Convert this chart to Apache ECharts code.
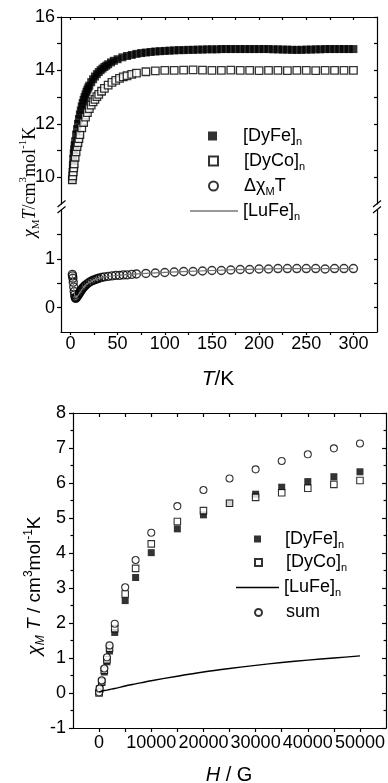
<!DOCTYPE html>
<html><head><meta charset="utf-8">
<script src="https://cdn.jsdelivr.net/npm/echarts@6/dist/echarts.min.js"></script>
<style>html,body{margin:0;padding:0;background:#fff}#c{width:388px;height:783px}</style>
</head><body><div id="c"></div>
<script>
// ---------- Top panel: chi_M T vs T ----------
const T_DyFe = [2,2.3,2.6,3,3.5,4,4.5,5,6,7,8,9,10,11,12,13,14,15,16,17,18,19,20,22,24,26,28,30,32,34,36,38,40,43,46,50,55,60,65,70,75,80,85,90,95,100,
  105,110,115,120,125,130,135,140,145,150,155,160,165,170,175,180,185,190,195,200,205,210,215,220,225,230,235,240,245,250,255,260,265,270,275,280,285,290,295,300];
const chi_DyFe = [9.9,10.2,10.45,10.7,10.9,11.05,11.2,11.35,11.6,11.8,12.0,12.18,12.35,12.5,12.65,12.78,12.9,13.0,13.1,13.2,13.28,13.36,13.43,13.56,13.67,13.77,13.86,13.94,14.01,14.07,14.13,14.18,14.23,14.3,14.36,14.42,14.49,14.54,14.58,14.62,14.65,14.67,14.69,14.71,14.72,14.73,
  14.74,14.75,14.76,14.76,14.77,14.77,14.78,14.78,14.79,14.79,14.79,14.8,14.8,14.8,14.8,14.8,14.8,14.8,14.8,14.8,14.8,14.8,14.79,14.79,14.78,14.78,14.77,14.77,14.77,14.78,14.78,14.79,14.79,14.8,14.8,14.8,14.8,14.8,14.8,14.8];
const T_DyCo = [2,2.5,3,3.5,4,5,6,7,8,9,10,12,14,16,18,20,22,24,26,28,30,33,36,40,44,48,52,56,60,65,70,80,90,100,110,120,130,140,150,160,170,180,190,200,210,220,230,240,250,260,270,280,290,300];
const chi_DyCo = [9.9,10.05,10.2,10.35,10.5,10.75,10.95,11.15,11.3,11.45,11.6,11.85,12.05,12.25,12.42,12.57,12.7,12.82,12.92,13.02,13.1,13.22,13.33,13.45,13.55,13.63,13.7,13.76,13.8,13.85,13.9,13.95,13.98,14.0,14.0,14.01,14.02,14.01,14.0,14.0,14.01,14.0,14.0,13.99,14.0,14.0,13.99,14.0,14.0,13.99,14.0,14.0,14.0,14.0];
const T_Delta = [2,2.3,2.6,3,3.5,4,4.5,5,5.5,6,7,8,9,10,11,12,13,14,15,16,18,20,22,24,26,28,30,33,36,40,44,48,52,56,60,65,70,80,90,100,110,120,130,140,150,160,170,180,190,200,210,220,230,240,250,260,270,280,290,300];
const chi_Delta = [0.68,0.65,0.6,0.52,0.42,0.33,0.26,0.21,0.19,0.2,0.22,0.25,0.28,0.31,0.34,0.37,0.4,0.42,0.44,0.46,0.49,0.52,0.54,0.56,0.57,0.59,0.6,0.62,0.63,0.64,0.65,0.66,0.66,0.67,0.67,0.68,0.69,0.7,0.71,0.72,0.73,0.74,0.74,0.75,0.76,0.76,0.77,0.78,0.78,0.79,0.79,0.8,0.8,0.8,0.8,0.8,0.79,0.8,0.8,0.8];
const T_LuFe = [2,3,4,5,6,8,10,15,20,30,40,50,70,100,150,200,250,300];
const chi_LuFe = [0.66,0.5,0.32,0.22,0.2,0.25,0.31,0.44,0.52,0.6,0.64,0.66,0.69,0.72,0.76,0.79,0.8,0.8];
const T_TICKS = [0,25,50,75,100,125,150,175,200,225,250,275,300];
const T_LABELS = [0,50,100,150,200,250,300];
const Y_UP_TICKS = [10,11,12,13,14,15,16];
const Y_UP_LABELS = [10,12,14,16];
const Y_LO_TICKS = [0,0.5,1,1.5];
const Y_LO_LABELS = [0,1];

// ---------- Bottom panel: chi_M T vs H ----------
const H = [0,100,500,1000,1500,2000,3000,5000,7000,10000,15000,20000,25000,30000,35000,40000,45000,50000];
const H_DyFe = [0.02,0.1,0.3,0.6,0.89,1.2,1.73,2.64,3.3,4.01,4.69,5.09,5.42,5.68,5.88,6.04,6.18,6.32];
const H_DyCo = [0.0,0.11,0.32,0.65,0.95,1.28,1.84,2.83,3.56,4.26,4.9,5.21,5.42,5.59,5.72,5.85,5.96,6.07];
const H_sum = [0.02,0.13,0.36,0.7,1.02,1.36,1.98,3.02,3.8,4.58,5.34,5.8,6.13,6.39,6.63,6.82,6.99,7.13];
const H_Lu = [0,1000,2000,3000,5000,7000,10000,15000,20000,25000,30000,35000,40000,45000,50000];
const H_LuFe = [0.03,0.07,0.1,0.13,0.2,0.26,0.35,0.48,0.6,0.7,0.79,0.87,0.94,1.0,1.06];
const H_TICKS = [0,5000,10000,15000,20000,25000,30000,35000,40000,45000,50000];
const H_LABELS = [0,10000,20000,30000,40000,50000];

const zip = (a, b) => a.map((v, i) => [v, b[i]]);
const SANS = 'Liberation Sans';
const SERIF = 'Liberation Serif';
const lab = {fontFamily: SANS, fontSize: 18, color: '#000'};
const lineS = {show: true, onZero: false, lineStyle: {color: '#000', width: 1.2}};

function xAx(o) {
  return Object.assign({type: 'value', splitLine: {show: false}, axisLine: lineS}, o);
}

const chart = echarts.init(document.getElementById('c'), null, {renderer: 'canvas'});

const legRich = {
  a: {fontFamily: SANS, fontSize: 18, lineHeight: 22, color: '#000'},
  s: {fontFamily: SANS, fontSize: 11, lineHeight: 11, verticalAlign: 'bottom', color: '#000'},
  g: {width: 21, fontSize: 18, lineHeight: 22},
  h: {width: 19, fontSize: 18, lineHeight: 22}
};
const legText = {
  tDyFe: '{g| }{a|[DyFe]}{s|n}', tDyCo: '{g| }{a|[DyCo]}{s|n}', tDelta: '{g| }{a|Δχ}{s|M}{a|T}', tLuFe: '{a|[LuFe]}{s|n}',
  bDyFe: '{h| }{a|[DyFe]}{s|n}', bDyCo: '{h| }{a|[DyCo]}{s|n}', bLuFe: '{a|[LuFe]}{s|n}', bSum: '{h| }{a|sum}'
};
function leg(name, left, cy, w, h, icon) {
  const l = {data: [name], left: left, top: cy - 11, itemWidth: w, itemHeight: h, padding: 0, itemGap: 0,
    selectedMode: false, formatter: n => legText[n], textStyle: {rich: legRich, fontFamily: SANS, fontSize: 18}};
  if (icon) l.icon = icon;
  return l;
}

const option = {
  animation: false,
  backgroundColor: '#fff',
  grid: [
    {left: 61, right: 11, top: 17, height: 187},
    {left: 61, right: 11, top: 210, height: 122},
    {left: 73, right: 1, top: 413, height: 315}
  ],
  xAxis: [
    xAx({gridIndex: 0, position: 'top', min: -10, max: 325,
      axisTick: {show: true, inside: true, length: 3, customValues: T_TICKS, lineStyle: {width: 1.2}},
      axisLabel: {show: false}}),
    xAx({gridIndex: 1, position: 'bottom', min: -10, max: 325,
      axisTick: {show: true, inside: false, length: 3, customValues: T_TICKS, lineStyle: {width: 1.2}},
      axisLabel: Object.assign({show: true, margin: 3, customValues: T_LABELS}, lab)}),
    xAx({gridIndex: 2, position: 'bottom', min: -5000, max: 55000,
      axisTick: {show: true, inside: false, length: 4, customValues: H_TICKS, lineStyle: {width: 1.2}},
      axisLabel: Object.assign({show: true, margin: 6, customValues: H_LABELS, formatter: v => String(v)}, lab)}),
    xAx({gridIndex: 2, position: 'top', min: -5000, max: 55000,
      axisTick: {show: true, inside: true, length: 4, customValues: H_TICKS, lineStyle: {width: 1.2}},
      axisLabel: {show: false}})
  ],
  yAxis: [
    xAx({gridIndex: 0, position: 'left', min: 9, max: 16,
      axisTick: {show: true, inside: false, length: 4, customValues: Y_UP_TICKS, lineStyle: {width: 1.2}},
      axisLabel: Object.assign({show: true, margin: 6, customValues: Y_UP_LABELS}, lab)}),
    xAx({gridIndex: 0, position: 'right', min: 9, max: 16,
      axisTick: {show: true, inside: true, length: 3, customValues: Y_UP_TICKS, lineStyle: {width: 1.2}},
      axisLabel: {show: false}}),
    xAx({gridIndex: 1, position: 'left', min: -0.5, max: 2,
      axisTick: {show: true, inside: false, length: 4, customValues: Y_LO_TICKS, lineStyle: {width: 1.2}},
      axisLabel: Object.assign({show: true, margin: 6, customValues: Y_LO_LABELS}, lab)}),
    xAx({gridIndex: 1, position: 'right', min: -0.5, max: 2,
      axisTick: {show: true, inside: true, length: 3, customValues: Y_LO_TICKS, lineStyle: {width: 1.2}},
      axisLabel: {show: false}}),
    xAx({gridIndex: 2, position: 'left', min: -1, max: 8, interval: 1,
      axisTick: {show: true, inside: false, length: 4, lineStyle: {width: 1.2}},
      minorTick: {show: true, splitNumber: 2, length: 2.5, lineStyle: {color: '#000', width: 1.2}},
      axisLabel: Object.assign({show: true, margin: 7}, lab)}),
    xAx({gridIndex: 2, position: 'right', min: -1, max: 8, interval: 1,
      axisTick: {show: true, inside: true, length: 4, lineStyle: {width: 1.2}},
      minorTick: {show: true, splitNumber: 2, length: 2.5, lineStyle: {color: '#000', width: 1.2}},
      axisLabel: {show: false}})
  ],
  legend: [
    leg('tDyFe', 208, 138, 9, 9),
    leg('tDyCo', 208, 163, 9, 9),
    leg('tDelta', 208, 188, 9, 9),
    leg('tLuFe', 190, 213, 48, 1.3, 'rect'),
    leg('bDyFe', 254, 541, 7, 7),
    leg('bDyCo', 254, 564.5, 7, 7),
    leg('bLuFe', 236, 589.5, 43, 1.5, 'rect'),
    leg('bSum', 254, 614.5, 7, 7)
  ],
  series: [
    {name: 'tDyFe', type: 'scatter', xAxisIndex: 0, yAxisIndex: 0, data: zip(T_DyFe, chi_DyFe),
      symbol: 'rect', symbolSize: 8, itemStyle: {color: '#000', borderColor: '#000', borderWidth: 0}},
    {name: 'tDyCo', type: 'scatter', xAxisIndex: 0, yAxisIndex: 0, data: zip(T_DyCo, chi_DyCo),
      symbol: 'rect', symbolSize: 7.5, itemStyle: {color: '#fff', borderColor: '#000', borderWidth: 1.3}},
    {name: 'tLuFe', type: 'line', xAxisIndex: 1, yAxisIndex: 2, data: zip(T_LuFe, chi_LuFe),
      symbol: 'none', showSymbol: false, smooth: 0.3, lineStyle: {color: '#777', width: 1.2}, itemStyle: {color: '#777'}},
    {name: 'tDelta', type: 'scatter', xAxisIndex: 1, yAxisIndex: 2, data: zip(T_Delta, chi_Delta),
      symbol: 'circle', symbolSize: 8, itemStyle: {color: 'rgba(255,255,255,0)', borderColor: '#000', borderWidth: 1.4}},
    {name: 'bDyFe', type: 'scatter', xAxisIndex: 2, yAxisIndex: 4, data: zip(H, H_DyFe),
      symbol: 'rect', symbolSize: 7, itemStyle: {color: '#000', borderWidth: 0}},
    {name: 'bDyCo', type: 'scatter', xAxisIndex: 2, yAxisIndex: 4, data: zip(H, H_DyCo),
      symbol: 'rect', symbolSize: 6.5, itemStyle: {color: '#fff', borderColor: '#000', borderWidth: 1.1}},
    {name: 'bLuFe', type: 'line', xAxisIndex: 2, yAxisIndex: 4, data: zip(H_Lu, H_LuFe),
      symbol: 'none', showSymbol: false, smooth: 0.3, lineStyle: {color: '#000', width: 1.4}, itemStyle: {color: '#000'}},
    {name: 'bSum', type: 'scatter', xAxisIndex: 2, yAxisIndex: 4, data: zip(H, H_sum),
      symbol: 'circle', symbolSize: 7, itemStyle: {color: '#fff', borderColor: '#000', borderWidth: 1.1}}
  ],
  graphic: [
    {type: 'text', x: 30, y: 182, rotation: Math.PI / 2, style: {
      text: '{i|χ}{sub|M}{i|T}{r|/cm}{sup|3}{r|mol}{sup|-1}{r|K}', align: 'center', verticalAlign: 'middle',
      rich: {
        i: {fontFamily: SERIF, fontStyle: 'italic', fontSize: 18, lineHeight: 24, fill: '#000'},
        r: {fontFamily: SERIF, fontSize: 18, lineHeight: 24, fill: '#000'},
        sub: {fontFamily: SERIF, fontSize: 11, lineHeight: 12, verticalAlign: 'bottom', fill: '#000'},
        sup: {fontFamily: SERIF, fontSize: 11, lineHeight: 12, verticalAlign: 'top', fill: '#000'}
      }}},
    {type: 'text', x: 35, y: 586, rotation: Math.PI / 2, style: {
      text: '{i|χ}{sub|M}{i| T}{r| / cm}{sup|3}{r|mol}{sup|-1}{r|K}', align: 'center', verticalAlign: 'middle',
      rich: {
        i: {fontFamily: SANS, fontStyle: 'italic', fontSize: 19, lineHeight: 24, fill: '#000'},
        r: {fontFamily: SANS, fontSize: 19, lineHeight: 24, fill: '#000'},
        sub: {fontFamily: SANS, fontStyle: 'italic', fontSize: 12, lineHeight: 13, verticalAlign: 'bottom', fill: '#000'},
        sup: {fontFamily: SANS, fontSize: 12, lineHeight: 12, verticalAlign: 'top', fill: '#000'}
      }}},
    {type: 'text', x: 218, y: 379, style: {
      text: '{i|T}{r|/K}', align: 'center', verticalAlign: 'middle',
      rich: {
        i: {fontFamily: SANS, fontStyle: 'italic', fontSize: 21, fill: '#000'},
        r: {fontFamily: SANS, fontSize: 21, fill: '#000'}
      }}},
    {type: 'text', x: 229, y: 775, style: {
      text: '{i|H}{r| / G}', align: 'center', verticalAlign: 'middle',
      rich: {
        i: {fontFamily: SANS, fontStyle: 'italic', fontSize: 20, fill: '#000'},
        r: {fontFamily: SANS, fontSize: 20, fill: '#000'}
      }}},
    // axis-break marks
    {type: 'line', shape: {x1: 57.5, y1: 207, x2: 65.5, y2: 200.5}, style: {stroke: '#000', lineWidth: 1.2}},
    {type: 'line', shape: {x1: 57.5, y1: 213, x2: 65.5, y2: 206.5}, style: {stroke: '#000', lineWidth: 1.2}},
    {type: 'line', shape: {x1: 373, y1: 207, x2: 381, y2: 200.5}, style: {stroke: '#000', lineWidth: 1.2}},
    {type: 'line', shape: {x1: 373, y1: 213, x2: 381, y2: 206.5}, style: {stroke: '#000', lineWidth: 1.2}}
  ]
};
chart.setOption(option);
</script></body></html>
